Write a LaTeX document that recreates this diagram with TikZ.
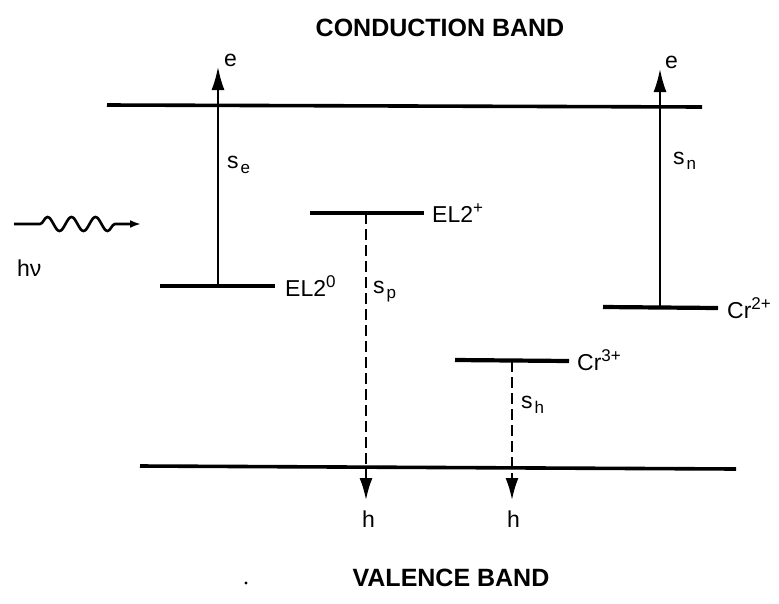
\documentclass[tikz,border=0pt]{standalone}
\usepackage{fontspec}
\setmainfont{Liberation Sans}
\usetikzlibrary{arrows.meta,decorations.pathmorphing}
\newcommand{\sbs}[2]{#1\kern2pt\raisebox{-5pt}{\fontsize{17}{18}\selectfont #2}}
\newcommand{\sps}[2]{#1\raisebox{9pt}{\fontsize{17}{18}\selectfont #2}}
\begin{document}
\begin{tikzpicture}[x=1pt,y=-1pt,
  band/.style={line width=3.6pt},
  level/.style={line width=4.2pt},
  trans/.style={line width=1.8pt,-{Latex[length=23pt,width=13pt]}},
  dtrans/.style={line width=2pt,dash pattern=on 11pt off 5pt,-{Latex[length=22pt,width=13pt]}},
  lbl/.style={font=\fontsize{23}{25}\selectfont,inner sep=0pt,anchor=west},
  title/.style={font=\fontsize{25}{28}\selectfont\bfseries,inner sep=0pt}]
\useasboundingbox (0,0) rectangle (779,603);
% titles
\node[title] (cb) at (440,28) {CONDUCTION BAND};
\node[title] (vb) at (451,578) {VALENCE BAND};
\fill (246,583) circle (1.7pt);
% bands
\coordinate (cbL) at (107,105); \coordinate (cbR) at (702,107);
\coordinate (vbL) at (140,466); \coordinate (vbR) at (736,469);
\draw[band] (cbL) -- (cbR);
\draw[band] (vbL) -- (vbR);
% levels
\coordinate (el0L) at (160,286); \coordinate (el0R) at (275,286);
\coordinate (elpL) at (310,213); \coordinate (elpR) at (424,213);
\coordinate (cr3L) at (455,360); \coordinate (cr3R) at (569,361);
\coordinate (cr2L) at (603,307); \coordinate (cr2R) at (718,308);
\draw[level] (el0L) -- (el0R);
\draw[level] (elpL) -- (elpR);
\draw[level] (cr3L) -- (cr3R);
\draw[level] (cr2L) -- (cr2R);
\node[lbl] (el0) at (285,286) {\sps{EL2}{0}};
\node[lbl] (elp) at (432,213) {\sps{EL2}{+}};
\node[lbl] (cr3) at (577,360) {\sps{Cr}{3+}};
\node[lbl] (cr2) at (727,308) {\sps{Cr}{2+}};
% transitions
\coordinate (se0) at (218,286); \coordinate (se1) at (218,67);
\coordinate (sn0) at (660,307); \coordinate (sn1) at (660,69);
\coordinate (sp0) at (366,213); \coordinate (sp1) at (366,500);
\coordinate (sh0) at (512,361); \coordinate (sh1) at (512,500);
\draw[trans] (se0) -- (se1);
\draw[trans] (sn0) -- (sn1);
\draw[dtrans] (sp0) -- (sp1);
\draw[dtrans] (sh0) -- (sh1);
\node[lbl] (e1) at (224,60) {e};
\node[lbl] (e2) at (665,62) {e};
\node[lbl] (h1) at (362,519) {h};
\node[lbl] (h2) at (507,519) {h};
\node[lbl] (se) at (227,165) {\sbs{s}{e}};
\node[lbl] (sn) at (673,161) {\sbs{s}{n}};
\node[lbl] (sp) at (373,292) {\sbs{s}{p}};
\node[lbl] (sh) at (521,405) {\sbs{s}{h}};
% photon
\coordinate (ph0) at (14,224); \coordinate (ph1) at (141,224);
\draw[line width=2.6pt,-{Latex[length=11pt,width=8pt]},
  decorate,decoration={snake,amplitude=7pt,segment length=24pt,pre length=26pt,post length=24pt}] (ph0) -- (ph1);
\node[lbl] (hv) at (17,268) {hν};
\end{tikzpicture}
\end{document}
